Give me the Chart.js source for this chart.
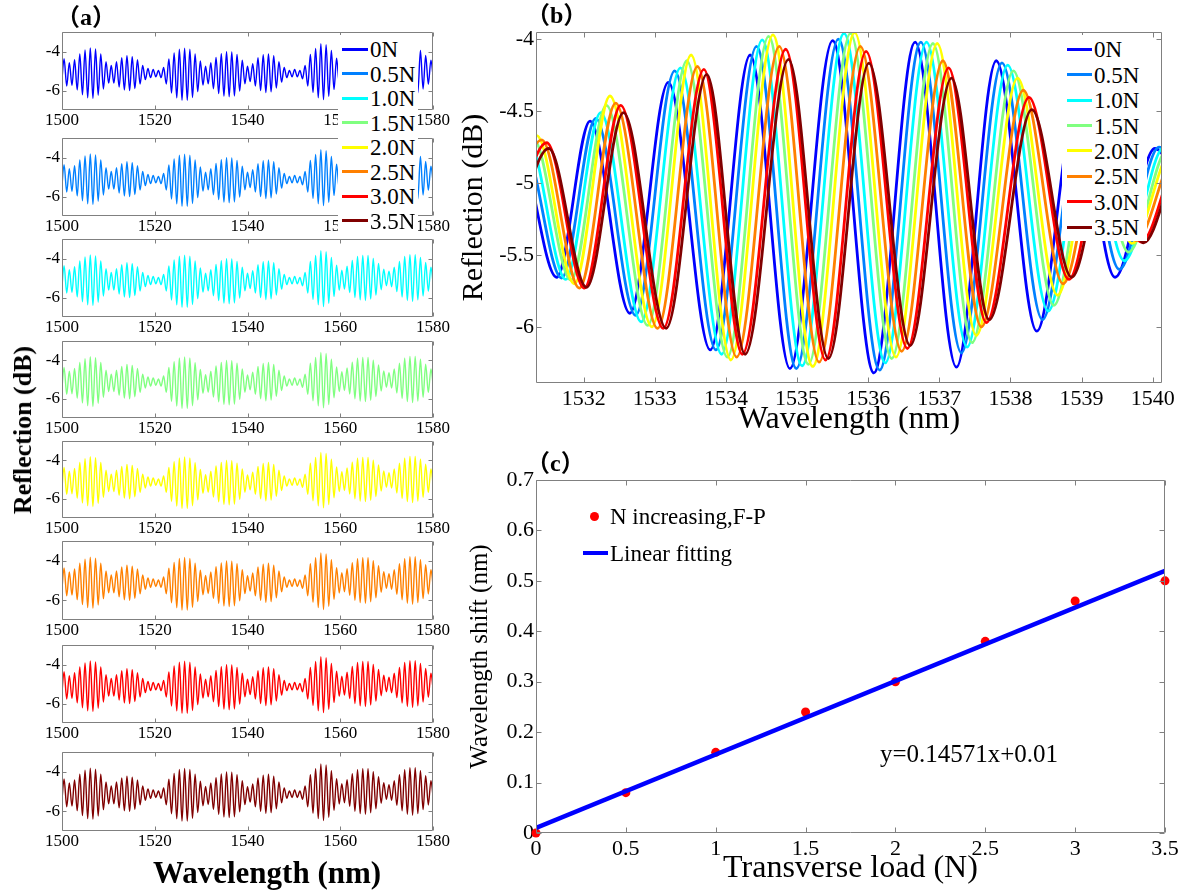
<!DOCTYPE html>
<html>
<head>
<meta charset="utf-8">
<title>Reflection spectra under transverse load</title>
<script src="https://cdn.jsdelivr.net/npm/chart.js@4.4.1/dist/chart.umd.min.js"></script>
<style>
body { margin: 0; background: #fff; }
#page { position: relative; width: 1185px; height: 891px; overflow: hidden; background: #fff;
        font-family: 'Liberation Serif', 'Times New Roman', serif; color: #000; }
#page canvas { position: absolute; }
.txt { position: absolute; white-space: nowrap; line-height: 1; transform: translateY(-50%); }
.box { position: absolute; background: #fff; }
</style>
</head>
<body>
<div id="page"></div>
<script>
// ---------- data ----------
const loadLabels = ['0N', '0.5N', '1.0N', '1.5N', '2.0N', '2.5N', '3.0N', '3.5N'];
const loadColors = ['#0000ff', '#0080ff', '#00ffff', '#80ff80', '#ffff00', '#ff8000', '#ff0000', '#800000'];

// (a) whole band, fringe dips/peaks (same shape for every load at this scale)
const aWavelength = [
  1499.89, 1500.45, 1501.02, 1501.58, 1502.15, 1502.71, 1503.28, 1503.84, 1504.41, 1504.97,
  1505.54, 1506.10, 1506.67, 1507.23, 1507.80, 1508.36, 1508.93, 1509.49, 1510.06, 1510.62,
  1511.19, 1511.75, 1512.32, 1512.88, 1513.45, 1514.01, 1514.58, 1515.14, 1515.71, 1516.27,
  1516.84, 1517.40, 1517.97, 1518.53, 1519.10, 1519.66, 1520.23, 1520.79, 1521.36, 1521.92,
  1522.49, 1523.05, 1523.62, 1524.18, 1524.75, 1525.31, 1525.88, 1526.44, 1527.01, 1527.57,
  1528.14, 1528.70, 1529.27, 1529.83, 1530.40, 1530.96, 1531.53, 1532.09, 1532.66, 1533.22,
  1533.79, 1534.35, 1534.92, 1535.48, 1536.05, 1536.61, 1537.18, 1537.74, 1538.31, 1538.87,
  1539.44, 1540.00, 1540.57, 1541.13, 1541.70, 1542.26, 1542.83, 1543.39, 1543.96, 1544.52,
  1545.09, 1545.65, 1546.22, 1546.78, 1547.35, 1547.91, 1548.48, 1549.04, 1549.61, 1550.17,
  1550.74, 1551.30, 1551.87, 1552.43, 1553.00, 1553.56, 1554.13, 1554.69, 1555.26, 1555.82,
  1556.39, 1556.95, 1557.52, 1558.08, 1558.65, 1559.21, 1559.78, 1560.34, 1560.91, 1561.47,
  1562.04, 1562.60, 1563.17, 1563.73, 1564.30, 1564.86, 1565.43, 1565.99, 1566.56, 1567.12,
  1567.69, 1568.25, 1568.82, 1569.38, 1569.95, 1570.51, 1571.08, 1571.64, 1572.21, 1572.77,
  1573.34, 1573.90, 1574.47, 1575.03, 1575.60, 1576.16, 1576.73, 1577.29, 1577.86, 1578.42,
  1578.99, 1579.55, 1580.12
];
const aReflection = [
  -5.75, -4.37, -5.77, -4.57, -5.74, -4.42, -5.97, -4.12, -6.22, -3.92,
  -6.37, -3.82, -6.40, -3.87, -6.24, -4.12, -5.92, -4.52, -5.62, -4.72,
  -5.62, -4.52, -5.82, -4.32, -5.97, -4.22, -6.00, -4.27, -5.90, -4.42,
  -5.67, -4.72, -5.44, -4.87, -5.34, -4.92, -5.30, -4.97, -5.34, -4.82,
  -5.67, -4.38, -6.13, -4.08, -6.38, -3.88, -6.50, -3.83, -6.50, -3.88,
  -6.36, -4.13, -6.06, -4.48, -5.72, -4.75, -5.66, -4.57, -5.91, -4.30,
  -6.16, -4.11, -6.29, -4.01, -6.32, -4.02, -6.28, -4.15, -6.03, -4.45,
  -5.66, -4.76, -5.54, -4.62, -5.77, -4.32, -6.00, -4.17, -6.10, -4.12,
  -6.07, -4.22, -5.87, -4.52, -5.57, -4.82, -5.34, -4.97, -5.30, -4.92,
  -5.30, -4.97, -5.40, -4.72, -5.77, -4.15, -6.10, -3.85, -6.37, -3.60,
  -6.47, -3.65, -6.30, -3.95, -5.95, -4.35, -5.63, -4.60, -5.57, -4.40,
  -5.75, -4.10, -6.00, -3.90, -6.12, -3.85, -6.15, -3.85, -6.08, -4.00,
  -5.88, -4.25, -5.60, -4.55, -5.40, -4.65, -5.45, -4.45, -5.70, -4.15,
  -5.98, -3.90, -6.15, -3.80, -6.20, -3.80, -6.12, -3.95, -5.92, -4.20,
  -5.68, -4.45, -5.50
];
const aXTicks = [1500, 1520, 1540, 1560, 1580];
const aYTicks = [-4, -6];

// (b) 1531-1540 nm close-up: dip/peak positions (nm) and levels (dB) for each load
const b0N_nm  = [1530.50, 1531.08, 1531.62, 1532.09, 1532.65, 1533.19, 1533.78, 1534.34, 1534.90, 1535.50, 1536.08, 1536.66, 1537.24, 1537.80, 1538.37, 1538.93, 1539.47, 1540.03, 1540.60];
const b0N_dB  = [-5.50, -4.75, -5.655, -4.57, -5.905, -4.30, -6.16, -4.11, -6.29, -4.01, -6.32, -4.02, -6.28, -4.15, -6.03, -4.45, -5.655, -4.76, -5.40];
const b05N_nm = [1530.56, 1531.15, 1531.69, 1532.17, 1532.73, 1533.28, 1533.86, 1534.43, 1534.99, 1535.58, 1536.16, 1536.74, 1537.31, 1537.88, 1538.45, 1539.00, 1539.53, 1540.09, 1540.66];
const b05N_dB = [-5.52, -4.72, -5.66, -4.55, -5.92, -4.22, -6.16, -4.05, -6.29, -4.00, -6.30, -4.02, -6.18, -4.165, -5.95, -4.50, -5.60, -4.75, -5.40];
const b10N_nm = [1530.63, 1531.22, 1531.75, 1532.24, 1532.81, 1533.36, 1533.94, 1534.51, 1535.07, 1535.66, 1536.24, 1536.82, 1537.39, 1537.96, 1538.53, 1539.07, 1539.60, 1540.16, 1540.73];
const b10N_dB = [-5.55, -4.70, -5.67, -4.51, -5.965, -4.20, -6.19, -4.005, -6.27, -3.96, -6.25, -4.02, -6.14, -4.18, -5.89, -4.55, -5.54, -4.75, -5.40];
const b15N_nm = [1530.69, 1531.29, 1531.82, 1532.32, 1532.90, 1533.45, 1534.02, 1534.60, 1535.16, 1535.75, 1536.33, 1536.91, 1537.46, 1538.04, 1538.61, 1539.15, 1539.66, 1540.22, 1540.79];
const b15N_dB = [-5.57, -4.69, -5.675, -4.46, -5.99, -4.15, -6.21, -3.98, -6.26, -3.96, -6.22, -4.03, -6.11, -4.22, -5.85, -4.60, -5.48, -4.76, -5.40];
const b20N_nm = [1530.74, 1531.34, 1531.87, 1532.37, 1532.96, 1533.51, 1534.07, 1534.66, 1535.22, 1535.81, 1536.39, 1536.97, 1537.52, 1538.10, 1538.66, 1539.20, 1539.71, 1540.27, 1540.84];
const b20N_dB = [-5.60, -4.67, -5.70, -4.395, -6.00, -4.11, -6.23, -3.97, -6.275, -3.955, -6.21, -4.03, -6.06, -4.27, -5.78, -4.65, -5.42, -4.78, -5.40];
const b25N_nm = [1530.80, 1531.41, 1531.94, 1532.45, 1533.04, 1533.60, 1534.15, 1534.75, 1535.31, 1535.89, 1536.47, 1537.05, 1537.59, 1538.18, 1538.74, 1539.27, 1539.77, 1540.33, 1540.90];
const b25N_dB = [-5.62, -4.70, -5.73, -4.445, -6.01, -4.19, -6.21, -4.05, -6.245, -4.05, -6.17, -4.15, -6.00, -4.355, -5.70, -4.70, -5.40, -4.80, -5.40];
const b30N_nm = [1530.87, 1531.48, 1532.01, 1532.52, 1533.12, 1533.69, 1534.23, 1534.84, 1535.40, 1535.97, 1536.55, 1537.13, 1537.66, 1538.26, 1538.82, 1539.34, 1539.84, 1540.40, 1540.97];
const b30N_dB = [-5.63, -4.72, -5.73, -4.46, -6.01, -4.21, -6.19, -4.07, -6.23, -4.085, -6.15, -4.20, -5.97, -4.405, -5.67, -4.72, -5.41, -4.80, -5.40];
const b35N_nm = [1530.90, 1531.51, 1532.04, 1532.56, 1533.16, 1533.73, 1534.27, 1534.88, 1535.44, 1536.01, 1536.59, 1537.17, 1537.70, 1538.30, 1538.86, 1539.38, 1539.87, 1540.43, 1541.00];
const b35N_dB = [-5.65, -4.76, -5.725, -4.51, -6.01, -4.245, -6.19, -4.14, -6.22, -4.166, -6.13, -4.27, -5.95, -4.49, -5.655, -4.75, -5.415, -4.82, -5.40];
const bXTicks = [1532, 1533, 1534, 1535, 1536, 1537, 1538, 1539, 1540];
const bYTicks = [-6, -5.5, -5, -4.5, -4];

// (c) wavelength shift vs load, and the fitted line y=0.14571x+0.01
const loadN = [0, 0.5, 1, 1.5, 2, 2.5, 3, 3.5];
const shiftNm = [0, 0.08, 0.16, 0.24, 0.30, 0.38, 0.46, 0.50];
const fitLoad = [0, 3.5];
const fitShift = [0.01, 0.52];
const cXTicks = [0, 0.5, 1, 1.5, 2, 2.5, 3, 3.5];
const cYTicks = [0, 0.1, 0.2, 0.3, 0.4, 0.5, 0.6, 0.7];

// ---------- helpers ----------
const serif = "'Liberation Serif', 'Times New Roman', serif";
const cjk = "'Liberation Serif', 'Noto Sans CJK SC', serif";
Chart.defaults.font.family = serif;
Chart.defaults.color = '#000';

const page = document.getElementById('page');

function addCanvas(left, top, w, h) {
  const c = document.createElement('canvas');
  c.width = w; c.height = h;
  Object.assign(c.style, {left: left + 'px', top: top + 'px', width: w + 'px', height: h + 'px'});
  page.appendChild(c);
  return c;
}

function addText(text, left, top, css) {
  const d = document.createElement('div');
  d.className = 'txt';
  d.textContent = text;
  d.style.left = left + 'px';
  d.style.top = top + 'px';
  Object.assign(d.style, css || {});
  page.appendChild(d);
  return d;
}

function addBox(left, top, w, h, color) {
  const d = document.createElement('div');
  d.className = 'box';
  Object.assign(d.style, {left: left + 'px', top: top + 'px', width: w + 'px', height: h + 'px'});
  if (color) d.style.background = color;
  page.appendChild(d);
  return d;
}

// matlab-ish box: grey frame with short inward ticks on all four sides
const frame = {
  id: 'frame',
  afterDatasetsDraw(chart, args, opts) {
    const {ctx, chartArea: a, scales: {x, y}} = chart;
    const L = Math.round(a.left) + 0.5, R = Math.round(a.right) - 0.5;
    const T = Math.round(a.top) + 0.5, B = Math.round(a.bottom) - 0.5;
    const n = opts.len;
    ctx.save();
    ctx.strokeStyle = '#808080';
    ctx.lineWidth = 1;
    ctx.beginPath();
    ctx.rect(L, T, R - L, B - T);
    x.ticks.forEach(t => {
      const px = Math.round(x.getPixelForValue(t.value)) + 0.5;
      ctx.moveTo(px, B); ctx.lineTo(px, B - n);
      ctx.moveTo(px, T); ctx.lineTo(px, T + n);
    });
    y.ticks.forEach(t => {
      const py = Math.round(y.getPixelForValue(t.value)) + 0.5;
      ctx.moveTo(L, py); ctx.lineTo(L + n, py);
      ctx.moveTo(R, py); ctx.lineTo(R - n, py);
    });
    ctx.stroke();
    ctx.restore();
  }
};

function axis(min, max, tickValues, o) {
  return {
    type: 'linear', min, max,
    afterBuildTicks: s => { s.ticks = tickValues.map(v => ({value: v})); },
    afterFit: s => { if (o.width) s.width = o.width; if (o.height) s.height = o.height; },
    grid: {display: false, drawTicks: false},
    border: {display: false},
    ticks: {font: {size: o.font}, padding: o.pad, maxRotation: 0, autoSkip: false, color: '#000',
            callback: v => String(v)},
    title: o.title
      ? {display: true, text: o.title, color: '#000', font: {size: o.titleSize, lineHeight: 1}, padding: o.titlePad}
      : {display: false}
  };
}

function baseOptions(padding, xAxis, yAxis, tickLen) {
  return {
    responsive: false, animation: false, devicePixelRatio: 1,
    layout: {padding},
    scales: {x: xAxis, y: yAxis},
    plugins: {legend: {display: false}, tooltip: {enabled: false}, frame: {len: tickLen}},
    elements: {line: {capBezierPoints: false}}
  };
}

// ---------- (a) eight stacked spectra ----------
const aTop = [32, 138, 239, 341, 441, 541, 645, 752];
const aBottom = [110, 216, 317, 418, 518, 620, 723, 831];

aTop.forEach((t, i) => {
  const cv = addCanvas(0, t - 14, 465, aBottom[i] - t + 38);
  new Chart(cv, {
    type: 'line',
    data: {datasets: [{
      label: loadLabels[i],
      data: aWavelength.map((x, k) => ({x, y: aReflection[k]})),
      borderColor: loadColors[i], borderWidth: 1.4, pointRadius: 0,
      cubicInterpolationMode: 'monotone'
    }]},
    options: baseOptions({top: 14, right: 32, left: 0, bottom: 0},
      axis(1500, 1580, aXTicks, {height: 24, font: 17, pad: 0}),
      axis(-7, -3, aYTicks, {width: 62, font: 17, pad: 2}), 4),
    plugins: [frame]
  });
});

// legend of (a), laid over the first two plots
addBox(338, 35, 80, 198);
loadLabels.forEach((lab, i) => {
  const cy = 49.3 + i * 24.5;
  addBox(342, cy - 1.5, 26, 3, loadColors[i]);
  addText(lab, 370, cy, {fontSize: '23px'});
});

addText('（a）', 56, 17, {fontSize: '24px', fontWeight: 'bold', fontFamily: cjk});
addText('Reflection (dB)', 23, 430, {fontSize: '26px', fontWeight: 'bold', transform: 'translate(-50%,-50%) rotate(-90deg)'});
addText('Wavelength (nm)', 267, 872, {fontSize: '31px', fontWeight: 'bold', transform: 'translate(-50%,-50%)'});

// ---------- (b) close-up of the fringes ----------
const bNm = [b0N_nm, b05N_nm, b10N_nm, b15N_nm, b20N_nm, b25N_nm, b30N_nm, b35N_nm];
const bDb = [b0N_dB, b05N_dB, b10N_dB, b15N_dB, b20N_dB, b25N_dB, b30N_dB, b35N_dB];

new Chart(addCanvas(455, 0, 730, 440), {
  type: 'line',
  data: {datasets: bNm.map((nm, i) => ({
    label: loadLabels[i],
    data: nm.map((x, k) => ({x, y: bDb[i][k]})),
    borderColor: loadColors[i], borderWidth: 2.8, pointRadius: 0,
    cubicInterpolationMode: 'monotone',
    order: 7 - i   // heaviest load drawn on top
  }))},
  options: baseOptions({top: 32, right: 23, left: 0, bottom: 0},
    axis(1531.33, 1540.13, bXTicks, {height: 57, font: 22, pad: 3,
      title: 'Wavelength (nm)', titleSize: 32, titlePad: {top: 0, bottom: 4}}),
    axis(-6.39, -3.95, bYTicks, {width: 81, font: 22, pad: 2,
      title: 'Reflection (dB)', titleSize: 30, titlePad: {top: 4, bottom: 0}}), 5),
  plugins: [frame]
});

addBox(1062, 35, 85, 206);
loadLabels.forEach((lab, i) => {
  const cy = 49.3 + i * 25.4;
  addBox(1067, cy - 1.5, 25, 3, loadColors[i]);
  addText(lab, 1094, cy, {fontSize: '23px'});
});
addText('（b）', 526, 15, {fontSize: '24px', fontWeight: 'bold', fontFamily: cjk});

// ---------- (c) shift vs load ----------
new Chart(addCanvas(455, 440, 730, 451), {
  type: 'scatter',
  data: {datasets: [
    {label: 'Linear fitting', data: fitLoad.map((x, k) => ({x, y: fitShift[k]})),
     showLine: true, borderColor: '#0000ff', borderWidth: 4.5, pointRadius: 0},
    {label: 'N increasing,F-P', data: loadN.map((x, k) => ({x, y: shiftNm[k]})),
     pointRadius: 4.5, pointBackgroundColor: '#ff0000', pointBorderColor: '#ff0000', pointBorderWidth: 0, clip: false}
  ]},
  options: baseOptions({top: 40, right: 20, left: 0, bottom: 0},
    axis(0, 3.5, cXTicks, {height: 58, font: 22, pad: 3,
      title: 'Transverse load (N)', titleSize: 32, titlePad: {top: 0, bottom: 6}}),
    axis(0, 0.7, cYTicks, {width: 81, font: 22, pad: 2,
      title: 'Wavelength shift (nm)', titleSize: 25, titlePad: {top: 12.5, bottom: 0}}), 5),
  plugins: [frame]
});

const dot = addBox(589.5, 511.5, 9, 9, '#ff0000');
dot.style.borderRadius = '50%';
addText('N increasing,F-P', 610, 516, {fontSize: '23px'});
addBox(583, 551, 25, 4, '#0000ff');
addText('Linear fitting', 610, 553, {fontSize: '23px'});
addText('y=0.14571x+0.01', 969, 753, {fontSize: '25px', transform: 'translate(-50%,-50%)'});
addText('（c）', 526, 463, {fontSize: '24px', fontWeight: 'bold', fontFamily: cjk});
</script>
</body>
</html>
